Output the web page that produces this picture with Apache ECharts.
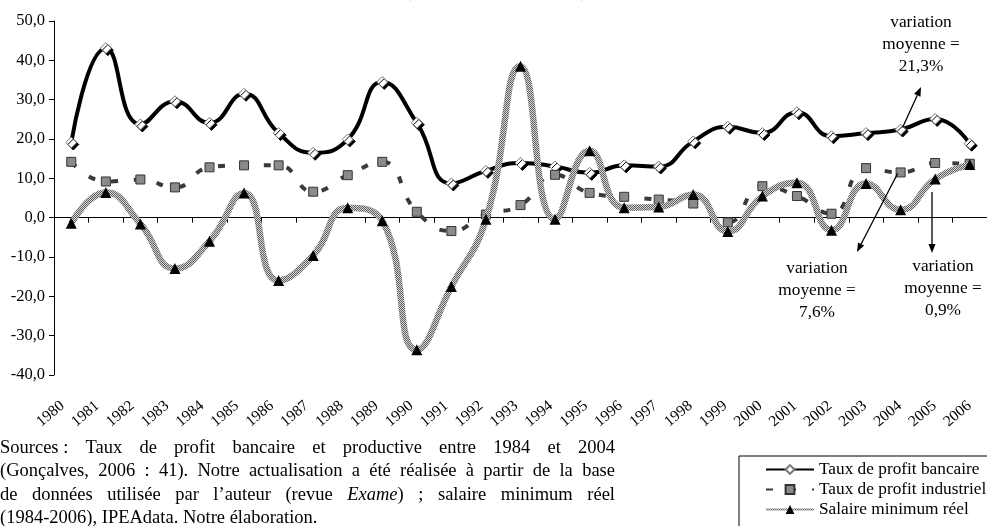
<!DOCTYPE html>
<html>
<head>
<meta charset="utf-8">
<script src="https://cdn.jsdelivr.net/npm/echarts@6/dist/echarts.min.js"></script>
<style>
  html, body { margin: 0; padding: 0; background: #fff; }
  #chart { width: 987px; height: 526px; }
</style>
</head>
<body>
<div id="chart"></div>
<script>
// ---- Data ----
const years = ['1980','1981','1982','1983','1984','1985','1986','1987','1988','1989','1990','1991','1992','1993','1994','1995','1996','1997','1998','1999','2000','2001','2002','2003','2004','2005','2006'];
const bancaire = [19.1, 43.1, 23.7, 29.6, 24.1, 31.5, 21.5, 16.5, 19.9, 34.5, 24.1, 8.7, 11.9, 13.9, 13.0, 11.4, 13.3, 13.0, 19.4, 23.1, 21.5, 26.8, 20.7, 21.5, 22.4, 25.1, 18.8];
const industriel = [14.2, 9.2, 9.7, 7.7, 12.8, 13.3, 13.3, 6.6, 10.8, 14.2, 1.5, -3.4, 0.8, 3.2, 10.9, 6.3, 5.3, 4.6, 3.6, -1.2, 8.0, 5.5, 1.0, 12.6, 11.5, 13.9, 13.7];
const salaire = [-1.4, 6.4, -1.6, -12.9, -6.0, 6.3, -16.0, -9.6, 2.5, -0.8, -33.6, -17.5, -0.4, 38.5, -0.4, 17.0, 2.5, 2.7, 5.9, -3.5, 5.5, 8.9, -3.2, 8.7, 2.0, 9.8, 13.5];
const seriesNames = ['Taux de profit bancaire', 'Taux de profit industriel', 'Salaire minimum réel'];
const titleText = '(en pourcentage)';
const notes = [
  'variation\nmoyenne =\n21,3%',
  'variation\nmoyenne =\n7,6%',
  'variation\nmoyenne =\n0,9%'
];
const sourceLines = [
  [['Sources :'], ['Taux'], ['de'], ['profit'], ['bancaire'], ['et'], ['productive'], ['entre'], ['1984'], ['et'], ['2004']],
  '(Gonçalves, 2006 : 41). Notre actualisation a été réalisée à partir de la base'.split(' ').map(w => [w]),
  [['de'], ['données'], ['utilisée'], ['par'], ['l’auteur'], ['(revue'], ['Exame', 'i', ')'], [';'], ['salaire'], ['minimum'], ['réel']]
];
const sourceLast = '(1984-2006), IPEAdata. Notre élaboration.';

// ---- Rendering ----
const SERIF = '"Liberation Serif", "Times New Roman", serif';
const SRC_FONT = 18.5;
const chart = echarts.init(document.getElementById('chart'), null, { renderer: 'canvas' });

// checkered pattern for the minimum wage line
const pc = document.createElement('canvas');
pc.width = 2; pc.height = 2;
const pctx = pc.getContext('2d');
pctx.fillStyle = '#d6d6d6'; pctx.fillRect(0, 0, 2, 2);
pctx.fillStyle = '#606060'; pctx.fillRect(0, 0, 1, 1); pctx.fillRect(1, 1, 1, 1);

const option = {
  animation: false,
  backgroundColor: '#fff',
  textStyle: { fontFamily: SERIF, color: '#000' },
  grid: [
    { left: 54, right: -12, top: 21, bottom: 151 },
    { left: 45, right: -3, top: 21, bottom: 151 }
  ],
  legend: {
    show: true,
    orient: 'vertical',
    left: 739,
    top: 456,
    height: 100,
    padding: [5, 14, 14, 26],
    itemGap: 3,
    itemWidth: 48,
    itemHeight: 11,
    borderColor: '#000',
    borderWidth: 1,
    borderRadius: 0,
    selectedMode: false,
    textStyle: { fontFamily: SERIF, fontSize: 17.3, color: '#000' },
    data: seriesNames
  },
  xAxis: [
    {
      gridIndex: 0, type: 'category', data: years, boundaryGap: true,
      axisLine: { show: true, onZero: true, lineStyle: { color: '#000', width: 1 } },
      axisTick: { show: true, length: 5, lineStyle: { color: '#000' } },
      axisLabel: { show: false },
      splitLine: { show: false }
    },
    {
      gridIndex: 1, type: 'category', data: years, boundaryGap: true, position: 'bottom',
      axisLine: { show: false, onZero: false },
      axisTick: { show: false },
      axisLabel: { show: true, interval: 0, rotate: 40, margin: 29, fontSize: 15.5, fontFamily: SERIF, color: '#000' },
      splitLine: { show: false }
    }
  ],
  yAxis: [
    {
      gridIndex: 0, type: 'value', min: -40, max: 50, interval: 10,
      axisLine: { show: true, lineStyle: { color: '#000', width: 1 } },
      axisTick: { show: true, length: 5, lineStyle: { color: '#000' } },
      splitLine: { show: false },
      axisLabel: {
        fontSize: 16.5, fontFamily: SERIF, color: '#000', margin: 9,
        formatter: v => v.toFixed(1).replace('.', ',')
      }
    },
    { gridIndex: 1, type: 'value', min: -40, max: 50, show: false }
  ],
  series: [
    {
      name: seriesNames[0], type: 'line', xAxisIndex: 0, yAxisIndex: 0,
      data: bancaire, smooth: 0.5,
      lineStyle: { color: '#000', width: 4 },
      symbol: 'diamond', symbolSize: 11,
      itemStyle: { color: '#fff', borderColor: '#777', borderWidth: 1, shadowColor: '#000', shadowOffsetX: 2, shadowOffsetY: 2, shadowBlur: 0 },
      emphasis: { disabled: true }, z: 2
    },
    {
      name: seriesNames[1], type: 'line', xAxisIndex: 0, yAxisIndex: 0,
      data: industriel, smooth: 0.5,
      lineStyle: { color: '#3a3a3a', width: 4, type: [7, 16] },
      symbol: 'rect', symbolSize: 9,
      itemStyle: { color: '#8a8a8a', borderColor: '#333', borderWidth: 1 },
      emphasis: { disabled: true }, z: 3
    },
    {
      name: seriesNames[2], type: 'line', xAxisIndex: 0, yAxisIndex: 0,
      data: salaire, smooth: 0.5,
      lineStyle: { color: { image: pc, repeat: 'repeat' }, width: 6.5 },
      symbol: 'triangle', symbolSize: 11,
      itemStyle: { color: '#000' },
      emphasis: { disabled: true }, z: 4
    }
  ]
};
chart.setOption(option);

// ---- Annotations, title and source text ----
function arrow(x1, y1, x2, y2) {
  const ang = Math.atan2(y2 - y1, x2 - x1);
  const L = 9, W = 3.5;
  const bx = x2 - L * Math.cos(ang), by = y2 - L * Math.sin(ang);
  const px = -Math.sin(ang) * W, py = Math.cos(ang) * W;
  return [
    { type: 'line', shape: { x1, y1, x2: bx, y2: by }, style: { stroke: '#000', lineWidth: 1.3 }, silent: true, z: 100 },
    { type: 'polygon', shape: { points: [[x2, y2], [bx + px, by + py], [bx - px, by - py]] }, style: { fill: '#000' }, silent: true, z: 100 }
  ];
}

const measure = document.createElement('canvas').getContext('2d');
function textW(t, italic) {
  measure.font = (italic ? 'italic ' : '') + SRC_FONT + 'px ' + SERIF;
  return measure.measureText(t).width;
}

const graphics = [];
graphics.push({
  type: 'text', x: 496, y: 1, silent: true,
  style: { text: titleText, font: 'bold 26px ' + SERIF, fill: '#000', align: 'center', verticalAlign: 'bottom' }
});
const notePos = [[921, 11], [817, 257], [943, 255]];
notes.forEach((n, i) => {
  graphics.push({
    type: 'text', x: notePos[i][0], y: notePos[i][1], silent: true, z: 100,
    style: { text: n, font: '17.3px ' + SERIF, fill: '#000', align: 'center', verticalAlign: 'top', lineHeight: 22 }
  });
});

// justified source paragraph
const lineY = [448, 471.5, 495];
const blockW = 615;
sourceLines.forEach((words, li) => {
  const widths = words.map(w => {
    let s = 0;
    for (let k = 0; k < w.length; k++) {
      if (w[k] === 'i') continue;
      s += textW(w[k], w[k + 1] === 'i');
    }
    return s;
  });
  const total = widths.reduce((a, b) => a + b, 0);
  const gap = Math.max(textW(' '), (blockW - total) / (words.length - 1));
  let x = 0;
  words.forEach((w, wi) => {
    let xx = x;
    for (let k = 0; k < w.length; k++) {
      if (w[k] === 'i') continue;
      const it = w[k + 1] === 'i';
      graphics.push({
        type: 'text', x: xx, y: lineY[li], silent: true,
        style: { text: w[k], font: (it ? 'italic ' : '') + SRC_FONT + 'px ' + SERIF, fill: '#000', align: 'left', verticalAlign: 'middle' }
      });
      xx += textW(w[k], it);
    }
    x += widths[wi] + gap;
  });
});
graphics.push({
  type: 'text', x: 0, y: 518, silent: true,
  style: { text: sourceLast, font: SRC_FONT + 'px ' + SERIF, fill: '#000', align: 'left', verticalAlign: 'middle' }
});

// arrows: anchored on data points where they start
const p2004b = chart.convertToPixel({ xAxisIndex: 0, yAxisIndex: 0 }, ['2004', bancaire[24]]);
const p2004i = chart.convertToPixel({ xAxisIndex: 0, yAxisIndex: 0 }, ['2004', industriel[24]]);
graphics.push(...arrow(p2004b[0] + 2, p2004b[1] - 2, 921, 87));
graphics.push(...arrow(p2004i[0] - 3, p2004i[1] + 1, 857, 252));
graphics.push(...arrow(932, 192, 932, 253));

chart.setOption({ graphic: graphics });
</script>
</body>
</html>
